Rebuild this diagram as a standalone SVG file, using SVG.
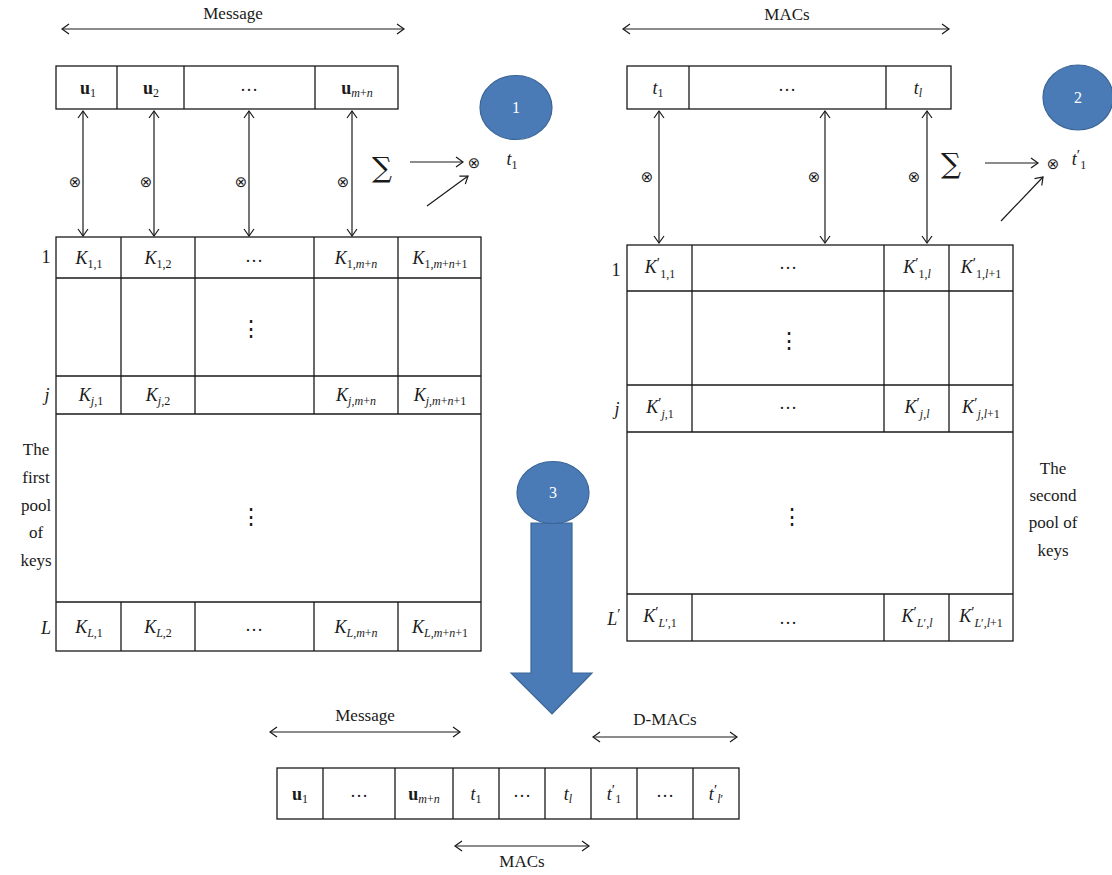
<svg xmlns="http://www.w3.org/2000/svg" width="1112" height="875" viewBox="0 0 1112 875">
<defs>
<marker id="ah" viewBox="-8 -6 10 12" refX="0" refY="0" markerWidth="10" markerHeight="12" markerUnits="userSpaceOnUse" orient="auto-start-reverse">
<path d="M-7,-5 L0,0 L-7,5" fill="none" stroke="#1a1a1a" stroke-width="1.2"/>
</marker>
</defs>
<style>
text{font-family:"Liberation Serif","DejaVu Serif",serif;fill:#1a1a1a}
.lbl{font-size:17px;text-anchor:middle}
.cell{font-size:18px;text-anchor:middle}
.i{font-style:italic}
.b{font-weight:bold}
.sub{font-size:12px}
.pr{font-size:15px}
.box{fill:#fff;stroke:#1a1a1a;stroke-width:1.3}
.ln{stroke:#1a1a1a;stroke-width:1.3;fill:none}
.arr{stroke:#1a1a1a;stroke-width:1.2;fill:none;marker-start:url(#ah);marker-end:url(#ah)}
.one{stroke:#1a1a1a;stroke-width:1.2;fill:none;marker-end:url(#ah)}
.ot{font-family:"DejaVu Sans",sans-serif;font-size:15px;text-anchor:middle}
.sig{font-family:"DejaVu Serif",serif;font-size:28px;text-anchor:middle}
.vd{font-family:"DejaVu Serif",serif;font-size:22px;text-anchor:middle}
.circ{fill:#4a7bb7;stroke:#3a6595;stroke-width:1.2}
.cn{font-size:16px;text-anchor:middle;fill:#fff}
</style>

<g id="connectors">
<line class="arr" x1="62" y1="29" x2="404" y2="29"/>
<line class="arr" x1="623" y1="29" x2="949" y2="29"/>
<line class="arr" x1="83" y1="111" x2="83" y2="236"/>
<line class="arr" x1="154" y1="111" x2="154" y2="236"/>
<line class="arr" x1="249" y1="111" x2="249" y2="236"/>
<line class="arr" x1="352" y1="111" x2="352" y2="236"/>
<line class="one" x1="410" y1="162" x2="463" y2="162"/>
<line class="one" x1="427" y1="206" x2="468" y2="176"/>
<line class="arr" x1="659" y1="111" x2="659" y2="243"/>
<line class="arr" x1="825" y1="111" x2="825" y2="243"/>
<line class="arr" x1="927" y1="111" x2="927" y2="243"/>
<line class="one" x1="985" y1="163" x2="1038" y2="163"/>
<line class="one" x1="1001" y1="221" x2="1043" y2="177"/>
<line class="arr" x1="270" y1="732" x2="460" y2="732"/>
<line class="arr" x1="593" y1="737" x2="737" y2="737"/>
<line class="arr" x1="455" y1="846" x2="589" y2="846"/>
</g>

<g id="labels">
<text class="lbl" x="233" y="19">Message</text>
<text class="lbl" x="787" y="20">MACs</text>
<text class="ot" x="75" y="187">⊗</text>
<text class="ot" x="146" y="187">⊗</text>
<text class="ot" x="241" y="187">⊗</text>
<text class="ot" x="343" y="187">⊗</text>
<text class="sig" x="382" y="177">∑</text>
<text class="ot" x="474" y="168">⊗</text>
<text class="cell" x="512" y="165"><tspan class="i">t</tspan><tspan class="sub" dy="4">1</tspan></text>
<text class="ot" x="647" y="182">⊗</text>
<text class="ot" x="814" y="182">⊗</text>
<text class="ot" x="914" y="182">⊗</text>
<text class="sig" x="951" y="173">∑</text>
<text class="ot" x="1053" y="169">⊗</text>
<text class="cell" x="1079" y="165"><tspan class="i">t</tspan><tspan class="pr" dy="-5">′</tspan><tspan class="sub" dy="9">1</tspan></text>
<text class="lbl" x="365" y="721">Message</text>
<text class="lbl" x="665" y="725">D-MACs</text>
<text class="lbl" x="522" y="867">MACs</text>
</g>

<g id="node-circle1">
<ellipse class="circ" cx="516" cy="107.5" rx="36" ry="32"/>
<text class="cn" x="516" y="113">1</text>
</g>
<g id="node-circle2">
<ellipse class="circ" cx="1078" cy="97.5" rx="35" ry="32.5"/>
<text class="cn" x="1078" y="103">2</text>
</g>

<g id="node-message">
<rect class="box" x="56" y="66" width="342" height="43"/>
<path class="ln" d="M117,66V109M184,66V109M315,66V109"/>
<text class="cell" x="88" y="94"><tspan class="b">u</tspan><tspan class="sub" dy="3">1</tspan></text>
<text class="cell" x="151" y="94"><tspan class="b">u</tspan><tspan class="sub" dy="3">2</tspan></text>
<text class="cell" x="249" y="91">…</text>
<text class="cell" x="357" y="94"><tspan class="b">u</tspan><tspan class="sub" dy="3"><tspan class="i">m</tspan>+<tspan class="i">n</tspan></tspan></text>
</g>

<g id="node-macs">
<rect class="box" x="627" y="66" width="324" height="43"/>
<path class="ln" d="M689,66V109M886,66V109"/>
<text class="cell" x="658" y="94"><tspan class="i">t</tspan><tspan class="sub" dy="3">1</tspan></text>
<text class="cell" x="787" y="91">…</text>
<text class="cell" x="918" y="94"><tspan class="i">t</tspan><tspan class="sub i" dy="3">l</tspan></text>
</g>

<g id="node-pool1">
<rect class="box" x="56" y="237" width="425" height="414"/>
<path class="ln" d="M56,278H481M56,376H481M56,414H481M56,602H481M121,237V414M195,237V414M314,237V414M398,237V414M121,602V651M195,602V651M314,602V651M398,602V651"/>
<text class="cell" x="46" y="263">1</text>
<text class="cell i" x="47" y="401">j</text>
<text class="cell i" x="46" y="634">L</text>
<text class="cell" x="89" y="264"><tspan class="i">K</tspan><tspan class="sub" dy="4">1,1</tspan></text>
<text class="cell" x="158" y="264"><tspan class="i">K</tspan><tspan class="sub" dy="4">1,2</tspan></text>
<text class="cell" x="254" y="262">…</text>
<text class="cell" x="356" y="264"><tspan class="i">K</tspan><tspan class="sub" dy="4">1,<tspan class="i">m</tspan>+<tspan class="i">n</tspan></tspan></text>
<text class="cell" x="440" y="264"><tspan class="i">K</tspan><tspan class="sub" dy="4">1,<tspan class="i">m</tspan>+<tspan class="i">n</tspan>+1</tspan></text>
<text class="vd" x="251" y="336">⋮</text>
<text class="cell" x="91" y="401"><tspan class="i">K</tspan><tspan class="sub" dy="4"><tspan class="i">j</tspan>,1</tspan></text>
<text class="cell" x="158" y="401"><tspan class="i">K</tspan><tspan class="sub" dy="4"><tspan class="i">j</tspan>,2</tspan></text>
<text class="cell" x="356" y="401"><tspan class="i">K</tspan><tspan class="sub" dy="4"><tspan class="i">j</tspan>,<tspan class="i">m</tspan>+<tspan class="i">n</tspan></tspan></text>
<text class="cell" x="440" y="401"><tspan class="i">K</tspan><tspan class="sub" dy="4"><tspan class="i">j</tspan>,<tspan class="i">m</tspan>+<tspan class="i">n</tspan>+1</tspan></text>
<text class="vd" x="251" y="524">⋮</text>
<text class="cell" x="89" y="633"><tspan class="i">K</tspan><tspan class="sub" dy="4"><tspan class="i">L</tspan>,1</tspan></text>
<text class="cell" x="158" y="633"><tspan class="i">K</tspan><tspan class="sub" dy="4"><tspan class="i">L</tspan>,2</tspan></text>
<text class="cell" x="254" y="631">…</text>
<text class="cell" x="356" y="633"><tspan class="i">K</tspan><tspan class="sub" dy="4"><tspan class="i">L</tspan>,<tspan class="i">m</tspan>+<tspan class="i">n</tspan></tspan></text>
<text class="cell" x="440" y="633"><tspan class="i">K</tspan><tspan class="sub" dy="4"><tspan class="i">L</tspan>,<tspan class="i">m</tspan>+<tspan class="i">n</tspan>+1</tspan></text>
<text class="lbl"><tspan x="36" y="455">The</tspan><tspan x="36" y="483">first</tspan><tspan x="36" y="511">pool</tspan><tspan x="36" y="538">of</tspan><tspan x="36" y="566">keys</tspan></text>
</g>

<g id="node-pool2">
<rect class="box" x="627" y="245" width="386" height="396"/>
<path class="ln" d="M627,291H1013M627,385H1013M627,432H1013M627,594H1013M692,245V432M884,245V432M949,245V432M692,594V641M884,594V641M949,594V641"/>
<text class="cell" x="616" y="276">1</text>
<text class="cell i" x="617" y="415">j</text>
<text class="cell" x="614" y="625"><tspan class="i">L</tspan><tspan class="pr" dy="-6">′</tspan></text>
<text class="cell" x="660" y="273"><tspan class="i">K</tspan><tspan class="pr" dy="-5">′</tspan><tspan class="sub" dy="10">1,1</tspan></text>
<text class="cell" x="788" y="269">…</text>
<text class="cell" x="917" y="273"><tspan class="i">K</tspan><tspan class="pr" dy="-5">′</tspan><tspan class="sub" dy="10">1,<tspan class="i">l</tspan></tspan></text>
<text class="cell" x="981" y="273"><tspan class="i">K</tspan><tspan class="pr" dy="-5">′</tspan><tspan class="sub" dy="10">1,<tspan class="i">l</tspan>+1</tspan></text>
<text class="vd" x="789" y="348">⋮</text>
<text class="cell" x="660" y="413"><tspan class="i">K</tspan><tspan class="pr" dy="-5">′</tspan><tspan class="sub" dy="10"><tspan class="i">j</tspan>,1</tspan></text>
<text class="cell" x="788" y="409">…</text>
<text class="cell" x="917" y="413"><tspan class="i">K</tspan><tspan class="pr" dy="-5">′</tspan><tspan class="sub" dy="10"><tspan class="i">j</tspan>,<tspan class="i">l</tspan></tspan></text>
<text class="cell" x="981" y="413"><tspan class="i">K</tspan><tspan class="pr" dy="-5">′</tspan><tspan class="sub" dy="10"><tspan class="i">j</tspan>,<tspan class="i">l</tspan>+1</tspan></text>
<text class="vd" x="792" y="524">⋮</text>
<text class="cell" x="660" y="622"><tspan class="i">K</tspan><tspan class="pr" dy="-5">′</tspan><tspan class="sub" dy="10"><tspan class="i">L</tspan>′,1</tspan></text>
<text class="cell" x="788" y="624">…</text>
<text class="cell" x="917" y="622"><tspan class="i">K</tspan><tspan class="pr" dy="-5">′</tspan><tspan class="sub" dy="10"><tspan class="i">L</tspan>′,<tspan class="i">l</tspan></tspan></text>
<text class="cell" x="981" y="622"><tspan class="i">K</tspan><tspan class="pr" dy="-5">′</tspan><tspan class="sub" dy="10"><tspan class="i">L</tspan>′,<tspan class="i">l</tspan>+1</tspan></text>
<text class="lbl"><tspan x="1053" y="474">The</tspan><tspan x="1053" y="501">second</tspan><tspan x="1053" y="528">pool of</tspan><tspan x="1053" y="556">keys</tspan></text>
</g>

<g id="node-arrow3">
<path class="circ" d="M531,523H572V673H592L552,714L511,673H531Z"/>
<ellipse class="circ" cx="553" cy="492.5" rx="36" ry="31"/>
<text class="cn" x="553" y="498">3</text>
</g>

<g id="node-dmac">
<rect class="box" x="277" y="768" width="462" height="51"/>
<path class="ln" d="M323,768V819M395,768V819M453,768V819M499,768V819M545,768V819M591,768V819M637,768V819M693,768V819"/>
<text class="cell" x="300" y="800"><tspan class="b">u</tspan><tspan class="sub" dy="3">1</tspan></text>
<text class="cell" x="359" y="797">…</text>
<text class="cell" x="424" y="800"><tspan class="b">u</tspan><tspan class="sub" dy="3"><tspan class="i">m</tspan>+<tspan class="i">n</tspan></tspan></text>
<text class="cell" x="476" y="800"><tspan class="i">t</tspan><tspan class="sub" dy="3">1</tspan></text>
<text class="cell" x="522" y="797">…</text>
<text class="cell" x="568" y="800"><tspan class="i">t</tspan><tspan class="sub i" dy="3">l</tspan></text>
<text class="cell" x="614" y="800"><tspan class="i">t</tspan><tspan class="pr" dy="-5">′</tspan><tspan class="sub" dy="8">1</tspan></text>
<text class="cell" x="665" y="797">…</text>
<text class="cell" x="716" y="800"><tspan class="i">t</tspan><tspan class="pr" dy="-5">′</tspan><tspan class="sub" dy="8"><tspan class="i">l</tspan>′</tspan></text>
</g>
</svg>
